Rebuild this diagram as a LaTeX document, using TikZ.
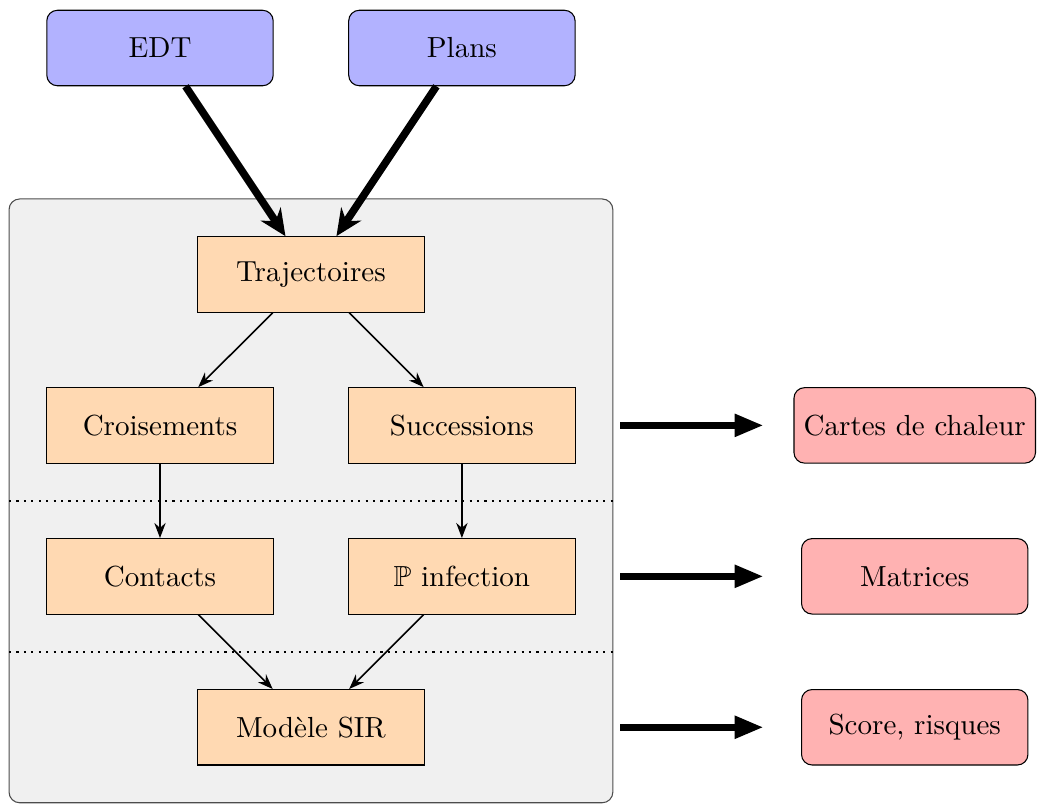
\documentclass[tikz,border=0pt,11pt]{standalone}
\usepackage{amsmath,amssymb}
\usepackage{tikz}
\usetikzlibrary{arrows.meta,positioning}

\begin{document}
\begin{tikzpicture}[x=1cm,y=1cm,>=Stealth,
 src/.style={draw,rounded corners,fill=blue!30,minimum width=3cm,minimum height=1cm},
 etape/.style={draw,fill=orange!30,minimum width=3cm,minimum height=1cm},
 sortie/.style={draw,rounded corners,fill=red!30,minimum width=3cm,minimum height=1cm},
 fleche/.style={semithick,->},
 gros/.style={line width=1mm,-{Stealth[length=10pt,width=9pt]}},
 export/.style={line width=1mm,-{Triangle[length=11pt,width=8pt]}}]
\useasboundingbox (-2.12,.636) rectangle (11.62,-10.01);
% cadre du traitement
\draw[fill=black!6,draw=black!70,rounded corners] (-2,-2) rectangle (6,-10);
\foreach \y in {-6,-8}
 \draw[thick,dotted] (-2,\y)--(6,\y);

\node[src] (edt) at (0,0) {EDT};
\node[src] (plans) at (4,0) {Plans};
\node[etape] (traj) at (2,-3) {Trajectoires};
\node[etape] (crois) at (0,-5) {Croisements};
\node[etape] (succ) at (4,-5) {Successions};
\node[etape] (contacts) at (0,-7) {Contacts};
\node[etape] (pinf) at (4,-7) {$\mathbb{P}$ infection};
\node[etape] (sir) at (2,-9) {Modèle SIR};
\node[sortie] (cartes) at (10,-5) {Cartes de chaleur};
\node[sortie] (matrices) at (10,-7) {Matrices};
\node[sortie] (score) at (10,-9) {Score, risques};

\draw[gros] (edt)--(traj);
\draw[gros] (plans)--(traj);
\draw[fleche] (traj)--(crois);
\draw[fleche] (traj)--(succ);
\draw[fleche] (crois)--(contacts);
\draw[fleche] (succ)--(pinf);
\draw[fleche] (contacts)--(sir);
\draw[fleche] (pinf)--(sir);

% sorties
\foreach \y/\n in {-5/a,-7/b,-9/c}{
 \coordinate (dep\n) at (6.1,\y);
 \coordinate (arr\n) at (8,\y);
 \draw[export] (dep\n)--(arr\n);
}
\end{tikzpicture}
\end{document}
